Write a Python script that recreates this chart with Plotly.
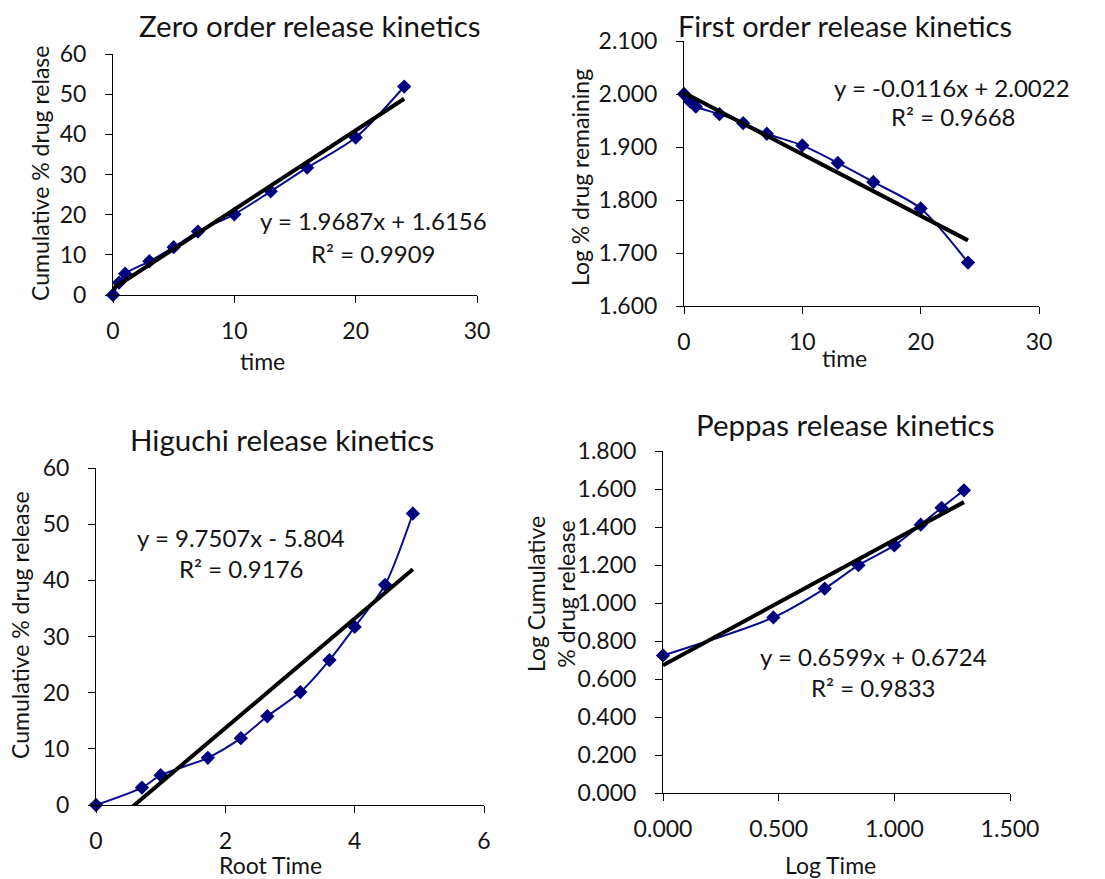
import numpy as np
import plotly.graph_objects as go

# ---------------- data ----------------
time = [0, 0.5, 1, 3, 5, 7, 10, 13, 16, 20, 24]
cum_release = [0, 3.1, 5.3, 8.4, 11.9, 15.8, 20.1, 25.8, 31.7, 39.2, 51.9]

log_remaining = [2.000, 1.986, 1.976, 1.962, 1.945, 1.925, 1.903, 1.870, 1.834, 1.784, 1.682]

root_time = [0, 0.71, 1.00, 1.73, 2.24, 2.65, 3.16, 3.61, 4.00, 4.47, 4.90]
higuchi_release = [0, 3.1, 5.3, 8.4, 11.9, 15.8, 20.1, 25.8, 31.7, 39.2, 51.9]

log_time = [0.000, 0.477, 0.699, 0.845, 1.000, 1.114, 1.204, 1.301]
log_cum_release = [0.724, 0.924, 1.076, 1.199, 1.303, 1.412, 1.501, 1.593]

# trendline coefficients (slope, intercept) as printed on the chart
zero_fit = (1.9687, 1.6156)
first_fit = (-0.0116, 2.0022)
higuchi_fit = (9.7507, -5.804)
peppas_fit = (0.6599, 0.6724)

titles = ["Zero order release kinetics", "First order release kinetics",
          "Higuchi release kinetics", "Peppas release kinetics"]
eq_texts = [("y = 1.9687x + 1.6156", "R² = 0.9909"),
            ("y = -0.0116x + 2.0022", "R² = 0.9668"),
            ("y = 9.7507x - 5.804", "R² = 0.9176"),
            ("y = 0.6599x + 0.6724", "R² = 0.9833")]

# ---------------- styling / layout ----------------
FW, FH = 1105, 879
FONT = "Lato"
TXT = "#141414"
MARK = "#00007f"
LINE = "#0a0a8c"


def px(x):
    return x / FW


def py(y):
    return 1 - y / FH


panels = [
    dict(x=time, y=cum_release, fit=zero_fit,
         dom_x=(113, 477), dom_y=(295, 54), xr=[0, 30], xd=10, yr=[0, 60], yd=10,
         xf="", yf=""),
    dict(x=time, y=log_remaining, fit=first_fit,
         dom_x=(684, 1039), dom_y=(306, 41), xr=[0, 30], xd=10, yr=[1.6, 2.1], yd=0.1,
         xf="", yf=".3f"),
    dict(x=root_time, y=higuchi_release, fit=higuchi_fit,
         dom_x=(96, 484), dom_y=(805, 468), xr=[0, 6], xd=2, yr=[0, 60], yd=10,
         xf="", yf=""),
    dict(x=log_time, y=log_cum_release, fit=peppas_fit,
         dom_x=(663, 1010), dom_y=(793, 451), xr=[0, 1.5], xd=0.5, yr=[0, 1.8], yd=0.2,
         xf=".3f", yf=".3f"),
]

fig = go.Figure()
layout = dict(template="none", width=FW, height=FH, margin=dict(l=0, r=0, t=0, b=0, pad=0),
              paper_bgcolor="white", plot_bgcolor="white", showlegend=False,
              font=dict(family=FONT, color=TXT))

for i, p in enumerate(panels):
    n = "" if i == 0 else str(i + 1)
    xa, ya = "x" + n, "y" + n
    fig.add_trace(go.Scatter(
        x=p["x"], y=p["y"], mode="lines+markers", xaxis=xa, yaxis=ya,
        line=dict(color=LINE, width=2, shape="spline", smoothing=0.8),
        marker=dict(symbol="diamond", size=11, color=MARK),
        cliponaxis=False, hoverinfo="skip"))
    xs = np.array([min(p["x"]), max(p["x"])])
    m, b = p["fit"]
    fig.add_trace(go.Scatter(
        x=xs, y=m * xs + b, mode="lines", xaxis=xa, yaxis=ya,
        line=dict(color="black", width=4), hoverinfo="skip"))

    common = dict(showgrid=False, zeroline=False, showline=True, linecolor="black",
                  linewidth=1, ticks="outside", ticklen=7, tickcolor="black", tickwidth=1,
                  tickfont=dict(family=FONT, size=23, color=TXT), fixedrange=True,
                  automargin=False)
    layout["xaxis" + n] = dict(common, domain=[px(p["dom_x"][0]), px(p["dom_x"][1])],
                               range=p["xr"], dtick=p["xd"], tick0=0, tickformat=p["xf"],
                               anchor=ya, ticklabelstandoff=8)
    layout["yaxis" + n] = dict(common, domain=[py(p["dom_y"][0]), py(p["dom_y"][1])],
                               range=p["yr"], dtick=p["yd"], tick0=0, tickformat=p["yf"],
                               anchor=xa, ticklabelstandoff=14)

ann = []


def text(t, x, y, size, angle=0):
    ann.append(dict(text=t, x=px(x), y=py(y), xref="paper", yref="paper",
                    xanchor="center", yanchor="middle", showarrow=False,
                    textangle=angle, font=dict(family=FONT, size=size, color=TXT)))


# titles
text(titles[0], 310, 25, 29.5)
text(titles[1], 845, 25, 29)
text(titles[2], 282, 439, 29.5)
text(titles[3], 845, 425, 29.5)

# axis titles
text("time", 262, 361, 23)
text("Cumulative % drug relase", 40, 174, 23, -90)
text("time", 845, 358, 23)
text("Log % drug remaining", 580, 178, 23, -90)
text("Root Time", 270, 865, 23)
text("Cumulative % drug release", 20, 625, 23, -90)
text("Log Time", 830, 865, 23)
text("Log Cumulative<br>% drug release", 551, 594, 23, -90)

# equations
eq_pos = [((373, 220), (373, 253)), ((952, 87), (953, 117)),
          ((241, 537), (241, 568)), ((873, 656), (873, 687))]
for (e, r), (pe, pr) in zip(eq_texts, eq_pos):
    text(e, pe[0], pe[1], 24)
    text(r, pr[0], pr[1], 24)

layout["annotations"] = ann
fig.update_layout(**layout)
fig.write_html("out.html", config={"displayModeBar": False, "staticPlot": True},
               post_script="document.body.style.margin='0px';"
                           "document.body.style.overflow='hidden';")
